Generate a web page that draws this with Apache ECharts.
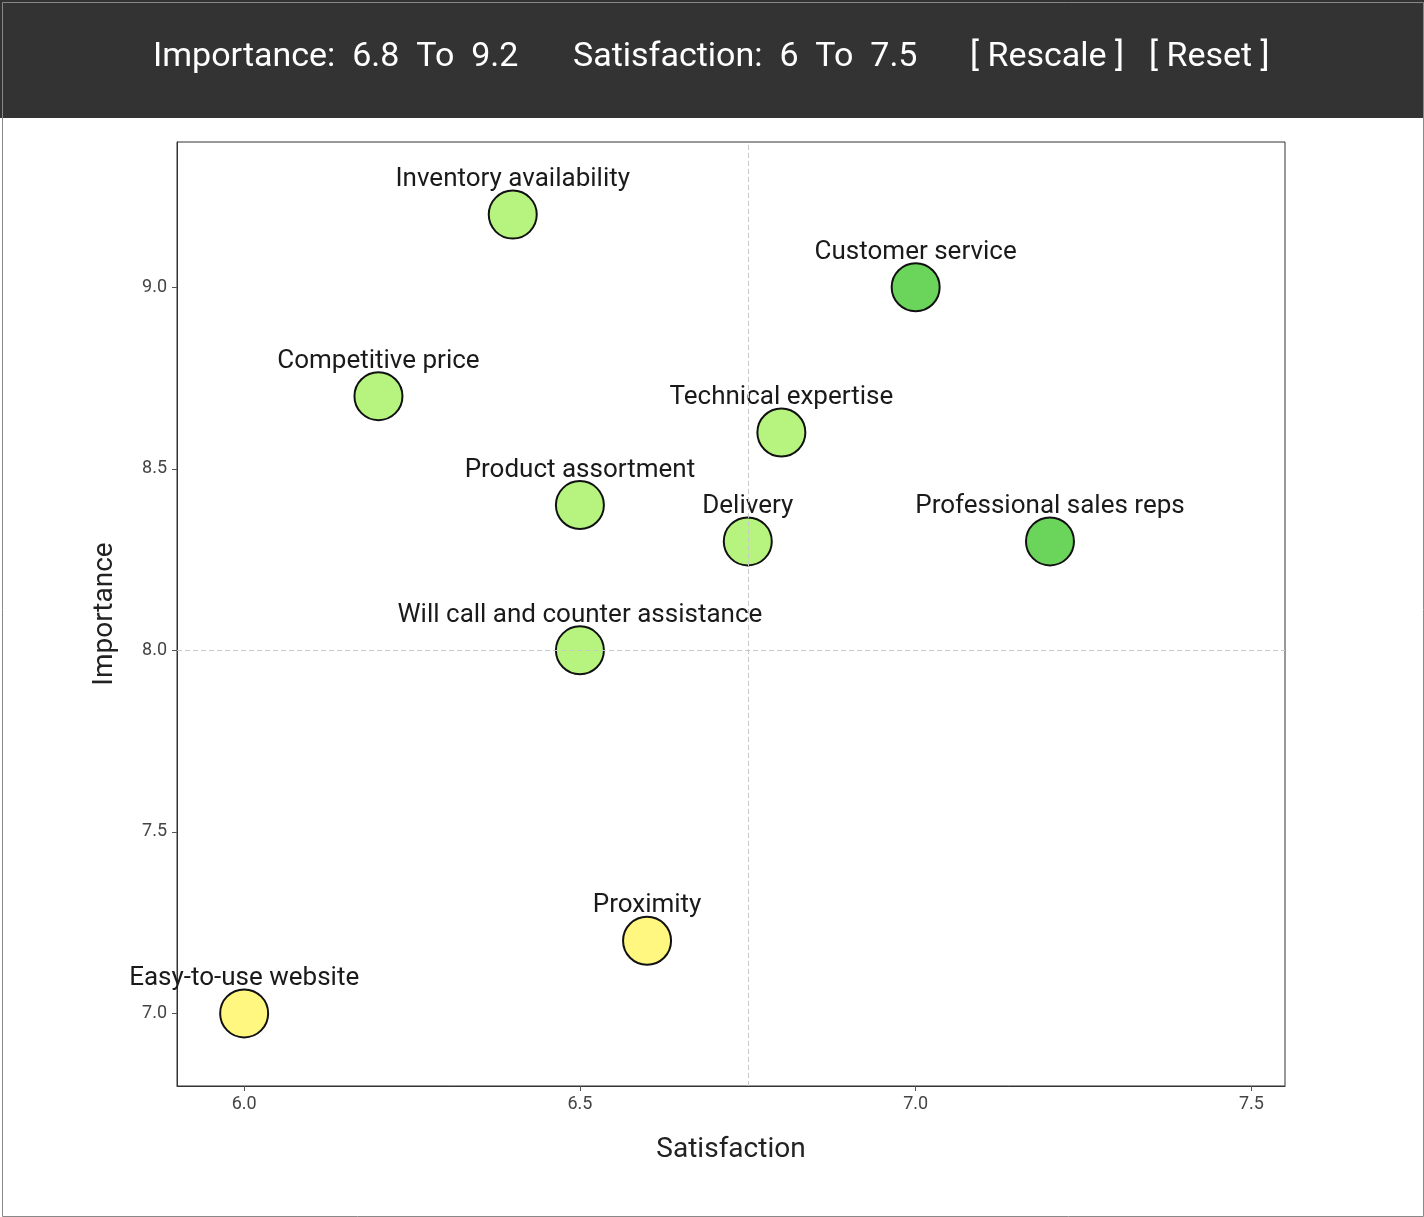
<!DOCTYPE html>
<html>
<head>
<meta charset="utf-8">
<title>Importance vs Satisfaction</title>
<script src="https://cdn.jsdelivr.net/npm/echarts@6/dist/echarts.min.js"></script>
<style>
  html, body { margin: 0; padding: 0; background: #fff; }
  #chart { width: 1424px; height: 1217px; }
</style>
</head>
<body>
<div id="chart"></div>
<script>
// attributes and scores
const attributes = [
  'Inventory availability', 'Customer service', 'Competitive price',
  'Technical expertise', 'Product assortment', 'Delivery',
  'Professional sales reps', 'Will call and counter assistance',
  'Proximity', 'Easy-to-use website'
];
const satisfaction = [6.4, 7.0, 6.2, 6.8, 6.5, 6.75, 7.2, 6.5, 6.6, 6.0];
const importance = [9.2, 9.0, 8.7, 8.6, 8.4, 8.3, 8.3, 8.0, 7.2, 7.0];
const fills = ['#b7f47f', '#6ad45b', '#b7f47f', '#b7f47f', '#b7f47f', '#b7f47f', '#6ad45b', '#b7f47f', '#fff77f', '#fff77f'];

const importanceRange = [6.8, 9.2];
const satisfactionRange = [6, 7.5];
const xTicks = [6.0, 6.5, 7.0, 7.5];
const yTicks = [7.0, 7.5, 8.0, 8.5, 9.0];

// quadrant lines sit at the middle of each range
const midX = (satisfactionRange[0] + satisfactionRange[1]) / 2;
const midY = (importanceRange[0] + importanceRange[1]) / 2;

const FONT = 'Roboto, "Noto Sans", sans-serif';
const chart = echarts.init(document.getElementById('chart'));

const headerText = (x, text) => ({
  type: 'text', left: x, top: 40,
  style: { text, fill: '#fff', font: '34px ' + FONT }
});

chart.setOption({
  backgroundColor: '#fff',
  animation: false,
  graphic: [
    { type: 'rect', left: 0, top: 0, shape: { width: 1424, height: 118 }, style: { fill: '#333333' } },
    headerText(153, 'Importance:  ' + importanceRange[0] + '  To  ' + importanceRange[1]),
    headerText(573, 'Satisfaction:  ' + satisfactionRange[0] + '  To  ' + satisfactionRange[1]),
    headerText(970, '[ Rescale ]'),
    headerText(1149, '[ Reset ]'),
    { type: 'rect', left: 0, top: 0, z: 100,
      shape: { x: 0.5, y: 0.5, width: 1421, height: 1214 },
      style: { fill: 'none', stroke: '#888', lineWidth: 1 } }
  ],
  grid: {
    left: 177, top: 142, right: 139, bottom: 131,
    show: true, borderColor: '#333', borderWidth: 1
  },
  xAxis: {
    type: 'value', min: 5.9, max: 7.55,
    name: 'Satisfaction', nameLocation: 'middle', nameGap: 50,
    nameTextStyle: { fontSize: 28, color: '#222', fontFamily: FONT },
    axisLine: { show: true, lineStyle: { color: '#333' } },
    axisTick: { show: true, length: 5, lineStyle: { color: '#555' }, customValues: xTicks },
    axisLabel: { fontSize: 18, color: '#444', margin: 9, fontFamily: FONT,
      customValues: xTicks, formatter: v => v.toFixed(1) },
    splitLine: { show: false }
  },
  yAxis: {
    type: 'value', min: 6.8, max: 9.4,
    name: 'Importance', nameLocation: 'middle', nameGap: 58,
    nameTextStyle: { fontSize: 28, color: '#222', fontFamily: FONT },
    axisLine: { show: true, lineStyle: { color: '#333' } },
    axisTick: { show: true, length: 5, lineStyle: { color: '#555' }, customValues: yTicks },
    axisLabel: { fontSize: 18, color: '#444', margin: 10, fontFamily: FONT,
      customValues: yTicks, formatter: v => v.toFixed(1) },
    splitLine: { show: false }
  },
  series: [{
    type: 'scatter',
    symbolSize: 48,
    data: attributes.map((name, i) => ({
      name, value: [satisfaction[i], importance[i]],
      itemStyle: { color: fills[i] }
    })),
    itemStyle: { borderColor: '#111', borderWidth: 2, opacity: 1 },
    label: {
      show: true, position: 'top', distance: -3,
      formatter: p => p.name,
      fontSize: 26, lineHeight: 26, color: '#1a1a1a', fontFamily: FONT
    },
    z: 3,
    markLine: {
      silent: true, symbol: 'none', label: { show: false },
      lineStyle: { color: '#c8c8c8', type: [5, 3], width: 1 },
      data: [{ xAxis: midX }, { yAxis: midY }]
    }
  }]
});
</script>
</body>
</html>
